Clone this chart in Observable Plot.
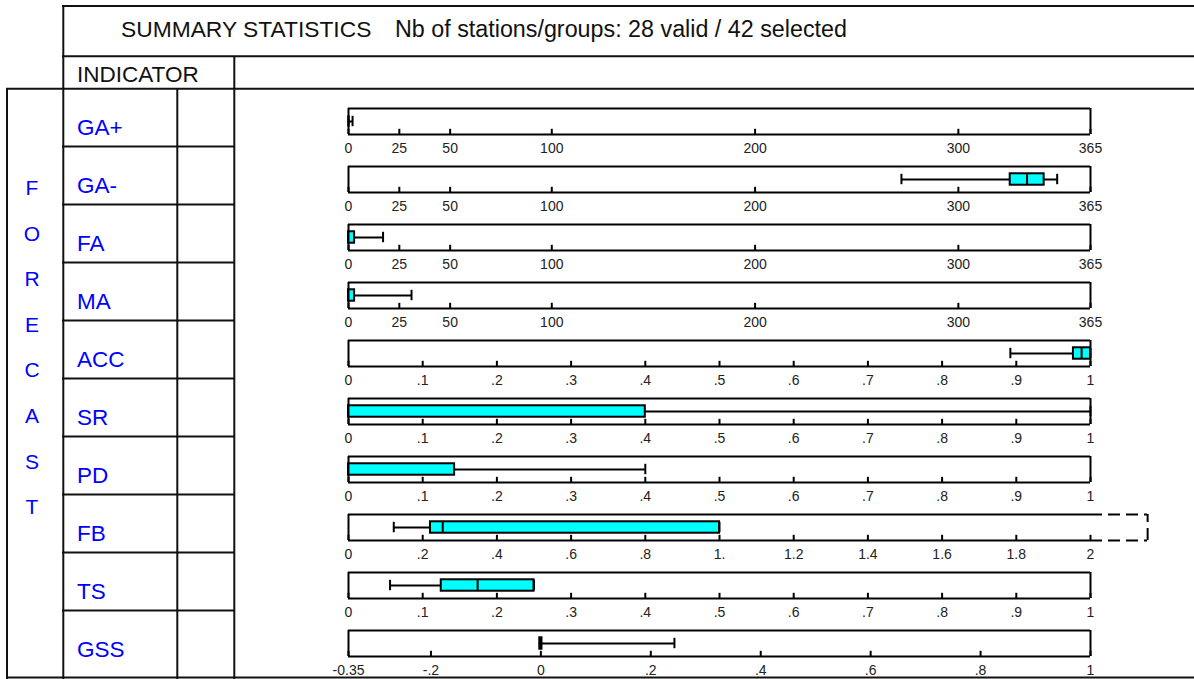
<!DOCTYPE html>
<html>
<head>
<meta charset="utf-8">
<script src="https://cdn.jsdelivr.net/npm/d3@7"></script>
<script src="https://cdn.jsdelivr.net/npm/@observablehq/plot@0.6"></script>
<style>
  html, body { margin: 0; padding: 0; background: #fff; }
  #page { position: relative; width: 1194px; height: 679px; overflow: hidden; font-family: "Liberation Sans", Arial, sans-serif; }
  .panel { position: absolute; left: 330px; }
</style>
</head>
<body>
<div id="page"></div>
<script>
// ---- data ----
const titleMain = "SUMMARY STATISTICS";
const titleSub = "Nb of stations/groups: 28 valid / 42 selected";
const headerLabel = "INDICATOR";
const groupLabel = ["F","O","R","E","C","A","S","T"];

const indicators  = ["GA+", "GA-", "FA", "MA", "ACC", "SR", "PD", "FB", "TS", "GSS"];
const whiskerLow  = [0,     272,   0,    0,    0.892, 0,    0,     0.122, 0.056, 0];
const quartile1   = [0,     325.5, 0,    0,    0.977, 0,    0,     0.221, 0.125, -0.002];
const medians     = [0,     333.8, 0,    0,    0.988, 0,    0,     0.254, 0.174, 0];
const quartile3   = [0,     342.2, 3,    3,    1,     0.4,  0.143, 1.0,   0.25,  0.002];
const whiskerHigh = [2,     348.6, 17,   31,   1,     1,    0.4,   1.0,   0.25,  0.243];
const scaleMin    = [0,     0,     0,    0,    0,     0,    0,     0,     0,     -0.35];
const scaleMax    = [365,   365,   365,  365,  1,     1,    1,     2,     1,     1];
const axisKind    = ["days","days","days","days","unit","unit","unit","fb","unit","gss"];

const dayTicks  = [0, 25, 50, 100, 200, 300, 365];
const dayLabels = ["0", "25", "50", "100", "200", "300", "365"];
const unitTicks  = [0, 0.1, 0.2, 0.3, 0.4, 0.5, 0.6, 0.7, 0.8, 0.9, 1];
const unitLabels = ["0", ".1", ".2", ".3", ".4", ".5", ".6", ".7", ".8", ".9", "1"];
const fbTicks  = [0, 0.2, 0.4, 0.6, 0.8, 1, 1.2, 1.4, 1.6, 1.8, 2];
const fbLabels = ["0", ".2", ".4", ".6", ".8", "1.", "1.2", "1.4", "1.6", "1.8", "2"];
const gssTicks  = [-0.35, -0.2, 0, 0.2, 0.4, 0.6, 0.8, 1];
const gssLabels = ["-0.35", "-.2", "0", ".2", ".4", ".6", ".8", "1"];
const fbOverflowEnd = 2.154;

// ---- layout ----
const ROW0 = 88.5, ROWH = 58;
const page = document.getElementById("page");
const W = 1194, H = 679;
const blue = "#0000ff";

const bg = d3.select(page).append("svg")
  .attr("width", W).attr("height", H)
  .style("position", "absolute").style("left", 0).style("top", 0);
const lines = [
  [62, 6, 1194, 6], [63.3, 5, 63.3, 679], [62, 56.3, 1194, 56.3],
  [234.3, 56, 234.3, 679], [6, 88.7, 1194, 88.7], [7, 88, 7, 679],
  [177.3, 88, 177.3, 679], [6, 677.5, 1194, 677.5]
];
for (let i = 1; i < indicators.length; i++) {
  const y = ROW0 + ROWH * i;
  lines.push([62, y, 235, y]);
}
bg.selectAll("line").data(lines).join("line")
  .attr("x1", d => d[0]).attr("y1", d => d[1]).attr("x2", d => d[2]).attr("y2", d => d[3])
  .attr("stroke", "#111").attr("stroke-width", 2);

const txt = (x, y, s, opts = {}) => bg.append("text").attr("x", x).attr("y", y).text(s)
  .attr("font-family", "Liberation Sans, Arial, sans-serif")
  .attr("font-size", opts.size || 22.5).attr("fill", opts.fill || "#111")
  .attr("text-anchor", opts.anchor || "start");
txt(121, 37, titleMain, {size: 22.8});
txt(395, 37, titleSub, {size: 23.3});
txt(77, 82, headerLabel);
indicators.forEach((name, i) => txt(77, ROW0 + ROWH * i + 46.5, name, {fill: blue}));
groupLabel.forEach((ch, k) => txt(32, 195 + 45.6 * k, ch, {fill: blue, size: 21, anchor: "middle"}));

// ---- panels ----
const tickSets = {
  days: [dayTicks, dayLabels], unit: [unitTicks, unitLabels],
  fb: [fbTicks, fbLabels], gss: [gssTicks, gssLabels]
};

indicators.forEach((name, i) => {
  const lo = scaleMin[i], hi = scaleMax[i];
  const [ticks, labels] = tickSets[axisKind[i]];
  const labelMap = new Map(ticks.map((t, j) => [t, labels[j]]));
  const stat = [{min: whiskerLow[i], q1: quartile1[i], med: medians[i], q3: quartile3[i], max: whiskerHigh[i]}];
  const isFB = name === "FB";
  const marks = [
    Plot.ruleY([0, 1], {y: d => d, x1: () => lo, x2: () => hi, stroke: "#000", strokeWidth: 2}),
    Plot.ruleX(isFB ? [lo] : [lo, hi], {x: d => d, y1: () => 0, y2: () => 1, stroke: "#000", strokeWidth: 2}),
    Plot.ruleX(ticks, {x: d => d, y1: () => 0, y2: () => 0.2, stroke: "#000", strokeWidth: 2}),
    Plot.axisX({ticks, tickSize: 0, tickPadding: 9, tickFormat: d => labelMap.get(d), label: null, fill: "#222", fontSize: 14}),
    Plot.ruleY(stat, {x1: "min", x2: "max", y: () => 0.5, stroke: "#000", strokeWidth: 2}),
    Plot.ruleX(stat, {x: "min", y1: () => 0.3, y2: () => 0.7, stroke: "#000", strokeWidth: 2}),
    Plot.ruleX(stat, {x: "max", y1: () => 0.3, y2: () => 0.7, stroke: "#000", strokeWidth: 2}),
    Plot.rect(stat, {x1: "q1", x2: "q3", y1: () => 0.28, y2: () => 0.72, fill: "#00ffff", stroke: "#000", strokeWidth: 2}),
    Plot.ruleX(stat, {x: "med", y1: () => 0.28, y2: () => 0.72, stroke: "#000", strokeWidth: 2})
  ];
  if (isFB) {
    marks.push(Plot.ruleY([0, 1], {y: d => d, x1: () => hi, x2: () => fbOverflowEnd, stroke: "#000", strokeWidth: 2, strokeDasharray: "12,6"}));
    marks.push(Plot.ruleX([fbOverflowEnd], {x: d => d, y1: () => 0, y2: () => 1, stroke: "#000", strokeWidth: 2, strokeDasharray: "12,6"}));
  }
  const chart = Plot.plot({
    width: 830, height: 64,
    marginLeft: 18, marginRight: 70, marginTop: 10, marginBottom: 28,
    x: {domain: [lo, hi]},
    y: {domain: [0, 1], axis: null},
    style: {fontFamily: "Liberation Sans, Arial, sans-serif", fontSize: "14px", color: "#222", background: "transparent", overflow: "visible"},
    marks
  });
  const div = document.createElement("div");
  div.className = "panel";
  div.style.top = Math.floor(ROW0 + ROWH * i + 10) + "px";
  div.appendChild(chart);
  page.appendChild(div);
});
</script>
</body>
</html>
